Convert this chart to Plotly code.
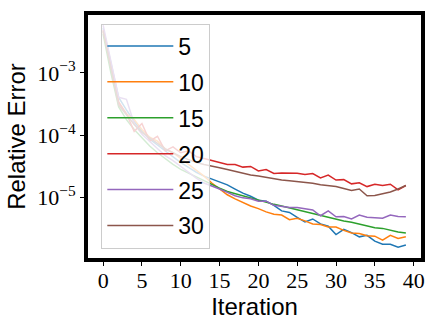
"""Relative error per iteration for several settings (log scale)."""
import plotly.graph_objects as go

iterations = list(range(40))
labels = ["5", "10", "15", "20", "25", "30"]
colors = ["#1f77b4", "#ff7f0e", "#2ca02c", "#d62728", "#9467bd", "#8c564b"]

err_5 = [5.24e-3, 1.43e-3, 4.06e-4, 2.55e-4, 1.66e-4, 1.155e-4, 8.66e-5, 6.98e-5, 5.62e-5, 4.53e-5,
         3.65e-5, 3.05e-5, 2.55e-5, 2.21e-5, 1.98e-5, 1.80e-5, 1.60e-5, 1.37e-5, 1.18e-5, 1.05e-5,
         9.08e-6, 8.75e-6, 7.50e-6, 6.11e-6, 5.77e-6, 4.82e-6, 4.05e-6, 4.53e-6, 3.78e-6, 3.48e-6,
         2.55e-6, 3.08e-6, 2.74e-6, 2.34e-6, 2.48e-6, 2.00e-6, 1.78e-6, 1.78e-6, 1.60e-6, 1.73e-6]
err_10 = [4.53e-3, 1.20e-3, 3.40e-4, 2.21e-4, 1.78e-4, 1.24e-4, 9.31e-5, 8.05e-5, 6.04e-5, 5.24e-5,
          4.22e-5, 3.40e-5, 2.74e-5, 2.21e-5, 1.71e-5, 1.37e-5, 1.11e-5, 9.55e-6, 8.26e-6, 7.31e-6,
          6.65e-6, 5.89e-6, 5.42e-6, 5.24e-6, 4.42e-6, 4.65e-6, 4.22e-6, 3.78e-6, 3.69e-6, 3.37e-6,
          3.37e-6, 2.97e-6, 2.71e-6, 2.64e-6, 2.43e-6, 2.40e-6, 2.07e-6, 2.48e-6, 2.21e-6, 2.34e-6]
err_15 = [4.22e-3, 1.00e-3, 2.84e-4, 1.78e-4, 1.24e-4, 8.98e-5, 6.73e-5, 5.24e-5, 4.22e-5, 3.40e-5,
          2.84e-5, 2.46e-5, 2.13e-5, 1.85e-5, 1.60e-5, 1.42e-5, 1.25e-5, 1.155e-5, 1.05e-5, 9.75e-6,
          9.08e-6, 8.45e-6, 7.78e-6, 7.31e-6, 6.81e-6, 6.34e-6, 5.89e-6, 5.62e-6, 5.24e-6, 4.82e-6,
          4.42e-6, 4.22e-6, 4.03e-6, 3.74e-6, 3.48e-6, 3.28e-6, 3.20e-6, 2.97e-6, 2.81e-6, 2.71e-6]
err_20 = [4.87e-3, 1.33e-3, 3.40e-4, 2.21e-4, 1.155e-4, 1.54e-4, 8.05e-5, 9.64e-5, 5.62e-5, 6.49e-5,
          5.24e-5, 5.62e-5, 4.53e-5, 4.22e-5, 3.93e-5, 3.69e-5, 3.40e-5, 3.40e-5, 3.08e-5, 3.16e-5,
          2.67e-5, 2.81e-5, 2.43e-5, 2.47e-5, 2.43e-5, 2.45e-5, 2.34e-5, 2.43e-5, 2.07e-5, 2.29e-5,
          1.91e-5, 1.94e-5, 1.66e-5, 1.73e-5, 1.50e-5, 1.64e-5, 1.56e-5, 1.64e-5, 1.33e-5, 1.56e-5]
err_25 = [5.83e-3, 1.54e-3, 4.06e-4, 3.78e-4, 1.54e-4, 1.04e-4, 8.05e-5, 6.04e-5, 4.70e-5, 3.93e-5,
          3.16e-5, 2.55e-5, 2.05e-5, 1.71e-5, 1.54e-5, 1.37e-5, 1.21e-5, 1.07e-5, 9.89e-6, 9.55e-6,
          8.75e-6, 8.75e-6, 7.50e-6, 7.16e-6, 6.90e-6, 6.90e-6, 6.60e-6, 6.34e-6, 5.11e-6, 6.11e-6,
          4.92e-6, 4.98e-6, 4.53e-6, 5.24e-6, 4.82e-6, 4.70e-6, 4.65e-6, 5.24e-6, 4.98e-6, 4.92e-6]
err_30 = [4.70e-3, 1.155e-3, 3.05e-4, 2.13e-4, 1.49e-4, 1.11e-4, 8.98e-5, 7.23e-5, 6.04e-5, 5.24e-5,
          4.53e-5, 4.06e-5, 3.65e-5, 3.40e-5, 3.16e-5, 3.02e-5, 2.81e-5, 2.61e-5, 2.43e-5, 2.31e-5,
          2.21e-5, 2.10e-5, 2.00e-5, 1.91e-5, 1.86e-5, 1.82e-5, 1.77e-5, 1.70e-5, 1.60e-5, 1.54e-5,
          1.50e-5, 1.40e-5, 1.30e-5, 1.37e-5, 1.07e-5, 1.08e-5, 1.155e-5, 1.23e-5, 1.37e-5, 1.56e-5]

series = [err_5, err_10, err_15, err_20, err_25, err_30]

x_ticks = [0, 5, 10, 15, 20, 25, 30, 35, 40]
y_ticks = [1e-3, 1e-4, 1e-5]
y_tick_text = ["10<sup>\u22123</sup>", "10<sup>\u22124</sup>", "10<sup>\u22125</sup>"]

fig = go.Figure()
for name, values, color in zip(labels, series, colors):
    fig.add_trace(go.Scatter(
        x=iterations, y=values, name=name, mode="lines",
        line=dict(color=color, width=1.5), legendgroup=name
    ))

axis_style = dict(
    showline=True, mirror=True, linecolor="black", linewidth=4,
    ticks="outside", ticklen=4, tickwidth=1, tickcolor="black",
    showgrid=False, zeroline=False,
    tickfont=dict(family="Liberation Serif", size=22, color="black"),
    title_font=dict(family="Liberation Sans", size=24, color="black"),
)

fig.update_xaxes(
    range=[-1.95, 40.95], tickvals=x_ticks, title_text="Iteration",
    title_standoff=0, ticklabelstandoff=-4, **axis_style
)
fig.update_yaxes(
    type="log", range=[-5.97, -2.07], tickvals=y_ticks, ticktext=y_tick_text,
    title_text="Relative Error", title_standoff=6, **axis_style
)

fig.update_layout(
    width=436, height=325,
    margin=dict(l=88, r=13, t=11, b=67),
    paper_bgcolor="white", plot_bgcolor="white",
    legend=dict(
        x=0.04, y=0.965, xanchor="left", yanchor="top",
        bgcolor="rgba(255,255,255,0.8)", bordercolor="#cccccc", borderwidth=1,
        font=dict(family="Liberation Sans", size=23, color="black"),
        itemwidth=66, tracegroupgap=3, traceorder="grouped",
    ),
)

# drop the default page margin so the figure sits at the window's corner
fig.write_html(
    "out.html",
    config={"displayModeBar": False},
    post_script="document.body.style.margin='0';",
)
